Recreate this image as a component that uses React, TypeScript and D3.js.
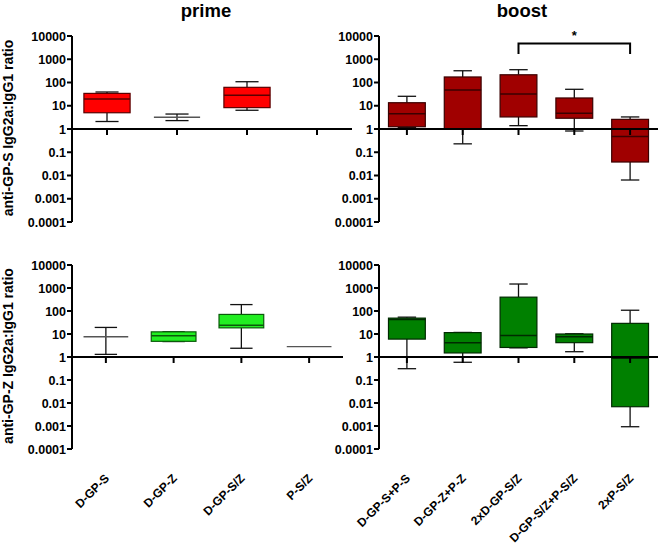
import React from "react";
import * as d3 from "d3";

// [min, q1, median, q3, max]
type Box = [number, number, number, number, number] | null;

const primeCategories = ["D-GP-S", "D-GP-Z", "D-GP-S/Z", "P-S/Z"];
const boostCategories = ["D-GP-S+P-S", "D-GP-Z+P-Z", "2xD-GP-S/Z", "D-GP-S/Z+P-S/Z", "2xP-S/Z"];

const primeS: Box[] = [
  [2.1, 5, 19.5, 34, 39],
  [2.3, 3.2, 3.2, 3.2, 4.4],
  [6.4, 8.3, 28, 62, 108],
  null,
];
const boostS: Box[] = [
  [1.15, 1.25, 4.5, 13.5, 25.5],
  [0.23, 1.0, 48, 173, 320],
  [1.39, 3.3, 32, 215, 355],
  [0.82, 2.9, 4.7, 21.6, 51],
  [0.0064, 0.038, 0.47, 2.6, 3.3],
];
const primeZ: Box[] = [
  [1.3, 7.6, 7.6, 7.6, 19.3],
  [4.7, 4.8, 8.4, 12.4, 12.5],
  [2.4, 18.5, 24, 71, 190],
  [2.8, 2.8, 2.8, 2.8, 2.8],
];
const boostZ: Box[] = [
  [0.31, 6, 43, 49, 54],
  [0.59, 1.5, 4.2, 11.5, 11.7],
  [2.5, 2.6, 8.7, 400, 1490],
  [1.7, 4.2, 7.6, 10, 10.2],
  [0.00093, 0.0069, 0.88, 29, 108],
];

const yTicks = [10000, 1000, 100, 10, 1, 0.1, 0.01, 0.001, 0.0001];
const panelTitles = ["prime", "boost"];
const yTitles = ["anti-GP-S IgG2a:IgG1 ratio", "anti-GP-Z IgG2a:IgG1 ratio"];
const sigLabel = "*";
const sigPair = ["2xD-GP-S/Z", "2xP-S/Z"];

const FONT = "'Liberation Sans', Arial, Helvetica, sans-serif";

function Panel({
  data,
  cats,
  x,
  y,
  fill,
  stroke,
  axisX,
}: {
  data: Box[];
  cats: string[];
  x: d3.ScaleBand<string>;
  y: d3.ScaleLogarithmic<number, number>;
  fill: string;
  stroke: string;
  axisX: number;
}) {
  const bw = x.bandwidth();
  const r1 = x.range()[1];
  const y1 = y(1);
  return (
    <g>
      <line x1={axisX} x2={axisX} y1={y(10000)} y2={y(0.0001)} stroke="#000" strokeWidth={2} />
      {yTicks.map((t) => (
        <g key={t}>
          <line x1={axisX - 5} x2={axisX} y1={y(t)} y2={y(t)} stroke="#000" strokeWidth={2} />
          <text
            x={axisX - 6}
            y={y(t)}
            dy="0.36em"
            textAnchor="end"
            fontFamily={FONT}
            fontWeight="bold"
            fontSize={12.5}
          >
            {String(t)}
          </text>
        </g>
      ))}
      {data.map((b, i) => {
        if (!b) return null;
        const cx = (x(cats[i]) as number) + bw / 2;
        const w = bw * 0.66;
        const cap = w / 2;
        const [mn, q1, md, q3, mx] = b;
        const flat = q3 / q1 < 1.05;
        return (
          <g key={i}>
            <line x1={cx} x2={cx} y1={y(mx)} y2={y(q3)} stroke="#111" strokeWidth={1.3} />
            <line x1={cx} x2={cx} y1={y(q1)} y2={y(mn)} stroke="#111" strokeWidth={1.3} />
            {mx > q3 && (
              <line x1={cx - cap / 2} x2={cx + cap / 2} y1={y(mx)} y2={y(mx)} stroke="#111" strokeWidth={1.3} />
            )}
            {mn < q1 && (
              <line x1={cx - cap / 2} x2={cx + cap / 2} y1={y(mn)} y2={y(mn)} stroke="#111" strokeWidth={1.3} />
            )}
            {flat ? (
              <line x1={cx - w / 2} x2={cx + w / 2} y1={y(md)} y2={y(md)} stroke="#555" strokeWidth={1.3} />
            ) : (
              <g>
                <rect
                  x={cx - w / 2}
                  y={y(q3)}
                  width={w}
                  height={y(q1) - y(q3)}
                  fill={fill}
                  stroke={stroke}
                  strokeWidth={1.2}
                />
                <line x1={cx - w / 2} x2={cx + w / 2} y1={y(md)} y2={y(md)} stroke={stroke} strokeWidth={1.5} />
              </g>
            )}
          </g>
        );
      })}
      <line x1={axisX} x2={r1} y1={y1} y2={y1} stroke="#000" strokeWidth={2} />
      {cats.map((c) => {
        const cx = (x(c) as number) + bw / 2;
        return <line key={c} x1={cx} x2={cx} y1={y1} y2={y1 + 6} stroke="#000" strokeWidth={2} />;
      })}
    </g>
  );
}

const C45 = Math.SQRT1_2;

function XLabel({ cx, label }: { cx: number; label: string }) {
  const tx = cx + 4;
  const ty = 479;
  return (
    <text
      transform={`matrix(${C45},${-C45},${C45},${C45},${tx},${ty})`}
      textAnchor="end"
      fontFamily={FONT}
      fontWeight="bold"
      fontSize={12}
    >
      {label}
    </text>
  );
}

export default function App() {
  const W = 658;
  const H = 552;
  const yTop = d3.scaleLog().domain([0.0001, 10000]).range([222, 36]);
  const yBot = d3.scaleLog().domain([0.0001, 10000]).range([449, 265]);
  const xPrimeTop = d3.scaleBand<string>().domain(primeCategories).range([72, 352]);
  const xPrimeBot = d3.scaleBand<string>().domain(primeCategories).range([72, 343]);
  const xBoost = d3.scaleBand<string>().domain(boostCategories).range([379, 658]);

  const bb = xBoost.bandwidth();
  const sx1 = (xBoost(sigPair[0]) as number) + bb / 2;
  const sx2 = (xBoost(sigPair[1]) as number) + bb / 2;

  return (
    <svg width={W} height={H} style={{ position: "absolute", left: 0, top: 0, background: "#fff" }}>
      <rect width={W} height={H} fill="#fff" />
      <text x={206} y={17} textAnchor="middle" fontFamily={FONT} fontWeight="bold" fontSize={18.5}>
        {panelTitles[0]}
      </text>
      <text x={522} y={17} textAnchor="middle" fontFamily={FONT} fontWeight="bold" fontSize={18.5}>
        {panelTitles[1]}
      </text>
      <text
        transform="translate(13,128) rotate(-90)"
        textAnchor="middle"
        fontFamily={FONT}
        fontWeight="bold"
        fontSize={14}
      >
        {yTitles[0]}
      </text>
      <text
        transform="translate(13,356) rotate(-90)"
        textAnchor="middle"
        fontFamily={FONT}
        fontWeight="bold"
        fontSize={14}
      >
        {yTitles[1]}
      </text>

      <Panel data={primeS} cats={primeCategories} x={xPrimeTop} y={yTop} fill="#ff0000" stroke="#5a0000" axisX={72} />
      <Panel data={boostS} cats={boostCategories} x={xBoost} y={yTop} fill="#a00000" stroke="#3a0000" axisX={379} />
      <Panel data={primeZ} cats={primeCategories} x={xPrimeBot} y={yBot} fill="#22ee22" stroke="#0a5a0a" axisX={72} />
      <Panel data={boostZ} cats={boostCategories} x={xBoost} y={yBot} fill="#008000" stroke="#002a00" axisX={379} />

      <path d={`M${sx1},54 V43.5 H${sx2} V54`} fill="none" stroke="#000" strokeWidth={2} />
      <text x={(sx1 + sx2) / 2} y={40} textAnchor="middle" fontFamily={FONT} fontWeight="bold" fontSize={13}>
        {sigLabel}
      </text>

      {primeCategories.map((c) => (
        <XLabel key={c} cx={(xPrimeBot(c) as number) + xPrimeBot.bandwidth() / 2} label={c} />
      ))}
      {boostCategories.map((c) => (
        <XLabel key={c} cx={(xBoost(c) as number) + bb / 2} label={c} />
      ))}
    </svg>
  );
}
